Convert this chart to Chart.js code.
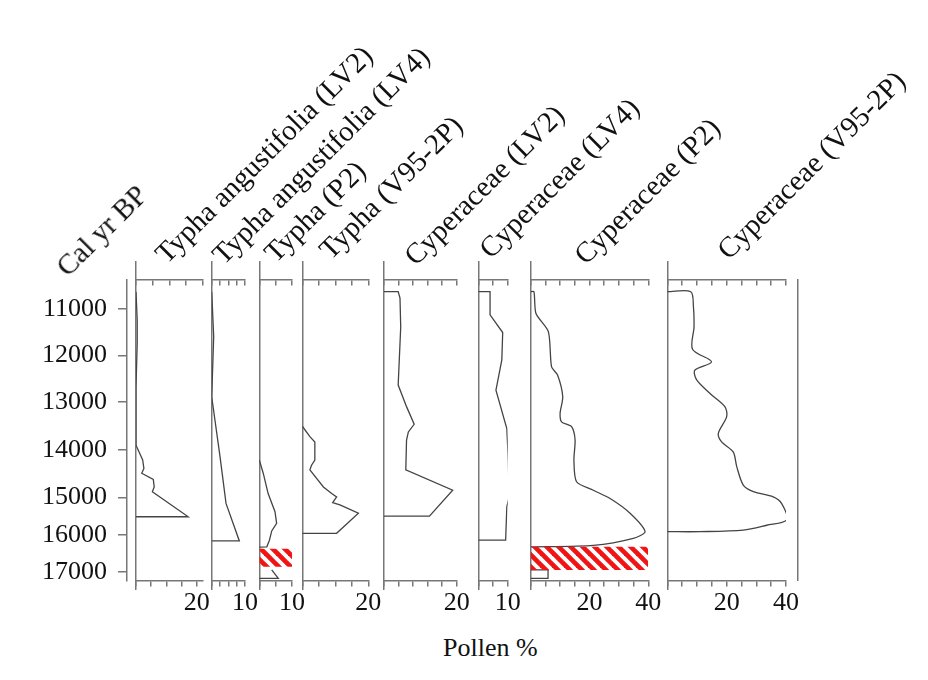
<!DOCTYPE html>
<html>
<head>
<meta charset="utf-8">
<script src="https://cdn.jsdelivr.net/npm/chart.js@4.4.1/dist/chart.umd.min.js"></script>
<style>
  html, body { margin:0; padding:0; background:#fff; }
  #wrap { position:relative; width:928px; height:680px; overflow:hidden; background:#fff;
          font-family:'Liberation Serif','Times New Roman',serif; color:#111; }
  #wrap canvas { position:absolute; left:0; top:0; }
  .ttl { position:absolute; white-space:nowrap; font-size:29px; line-height:29px;
         transform-origin:0 0; transform:rotate(-45deg) translate(0,-24.2px); }
  #xlab { position:absolute; left:443px; top:635px; font-size:26px; line-height:26px; white-space:nowrap; }
</style>
</head>
<body>
<div id="wrap"><div id="xlab">Pollen %</div></div>
<script>
/* ── age axis (age-depth model) ── */
const AGE_TICKS = [11000, 12000, 13000, 14000, 15000, 16000, 17000];
const AGE_DEPTH = [0, 46.4, 93.0, 140.7, 188.0, 225.7, 262.4];
const AGE_AXIS  = [10360, 17245];   // top / bottom of the % axes
const AGE_LINE  = [9980, 17470];    // extent of the zero lines

/* ── titles ── */
const TITLES = ['Cal yr BP', 'Typha angustifolia (LV2)', 'Typha angustifolia (LV4)', 'Typha (P2)',
  'Typha (V95-2P)', 'Cyperaceae (LV2)', 'Cyperaceae (LV4)', 'Cyperaceae (P2)', 'Cyperaceae (V95-2P)'];

/* ── series (age cal yr BP, pollen %) ── */
const TA_LV2_AGE = [10620, 11230, 11730, 12670, 13900, 14210, 14390, 14490, 14620, 14780, 14880, 15515, 15515];
const TA_LV2_PCT = [0, 0.4, 0.4, 0, 0, 2.2, 2.6, 1.9, 5.7, 6.0, 5.4, 17.2, 0];

const TA_LV4_AGE = [10620, 11590, 12880, 14140, 15160, 16160, 16160];
const TA_LV4_PCT = [0, 0.6, 0, 2.5, 4.3, 8.3, 0];

const TY_P2_AGE = [14210, 14490, 14920, 15380, 15690, 15890, 16140, 16320, 16330];
const TY_P2_PCT = [0, 1.2, 2.7, 4.8, 5.3, 3.8, 3.1, 2.3, 0];
const TY_P2_LOW_AGE = [16950, 17180, 17180];
const TY_P2_LOW_PCT = [3.8, 5.8, 0];
const TY_P2_GAP = [16370, 16865];

const TY_V95_AGE = [13500, 13720, 13830, 14210, 14320, 14420, 14780, 14920, 14990, 15140, 15200, 15420, 15955, 15955];
const TY_V95_PCT = [0, 2.3, 3.8, 3.8, 2.8, 2.3, 6.4, 8.9, 10.4, 9.2, 11.4, 17.0, 10.4, 0];

const CY_LV2_AGE = [10620, 10620, 10760, 11380, 12630, 13090, 13460, 13620, 13790, 14420, 14850, 15500, 15500];
const CY_LV2_PCT = [0, 3.9, 4.4, 4.6, 3.9, 6.2, 8.3, 6.7, 6.2, 6.0, 18.9, 12.5, 0];

const CY_LV4_AGE = [10620, 10620, 11120, 11500, 12090, 12740, 13550, 14210, 14990, 15250, 16140, 16140];
const CY_LV4_PCT = [0, 4.0, 4.0, 8.3, 8.0, 6.0, 9.7, 10.2, 10.5, 9.7, 9.3, 0];

const CY_P2_AGE = [10620, 10620, 11090, 11480, 12240, 12410, 12880, 13230, 13410, 13510, 13790, 14210,
  14670, 14850, 15030, 15420, 15910, 16090, 16280, 16320];
const CY_P2_PCT = [0, 1.1, 1.8, 6.0, 7.1, 9.1, 10.9, 10.0, 10.5, 13.9, 15.1, 14.7,
  15.6, 21.3, 27.0, 33.8, 38.9, 34.9, 21.3, 0];
const CY_P2_LOW_AGE = [16950, 16950, 17180, 17180];
const CY_P2_LOW_PCT = [0, 5.9, 5.9, 0];
const CY_P2_GAP = [16320, 16950];

const CY_V95_AGE = [10620, 10620, 10940, 11380, 11860, 12130, 12310, 12520, 12810, 13090, 13300, 13650,
  13830, 14040, 14350, 14740, 14880, 14990, 15160, 15600, 15740, 15870, 15910, 15910];
const CY_V95_PCT = [0, 7.9, 8.8, 9.0, 8.5, 14.9, 9.3, 9.9, 14.4, 19.4, 20.0, 17.2,
  18.3, 22.2, 23.4, 25.6, 29.0, 35.7, 38.5, 40.2, 33.5, 25.6, 11.0, 0];

/* ── style ── */
const AXIS = '#777777';
const CURVE = '#444444';
const TEXT = '#111111';
Chart.defaults.font.family = "'Liberation Serif','Times New Roman',serif";
Chart.defaults.color = TEXT;

function toDepth(age) {
  const n = AGE_TICKS.length;
  let i = 0;
  while (i < n - 2 && age > AGE_TICKS[i + 1]) i++;
  const t = (age - AGE_TICKS[i]) / (AGE_TICKS[i + 1] - AGE_TICKS[i]);
  return AGE_DEPTH[i] + t * (AGE_DEPTH[i + 1] - AGE_DEPTH[i]);
}
const pts = (ages, pcts) => ages.map((a, k) => ({ x: pcts[k], y: toDepth(a) }));
function tickList(end, step) {
  const out = [];
  for (let v = 0; v <= end + 1e-9; v += step) out.push({ value: +v.toFixed(3) });
  return out;
}
function hatchPattern() {
  const c = document.createElement('canvas');
  c.width = 12; c.height = 12;
  const g = c.getContext('2d');
  g.strokeStyle = '#f01414';
  g.lineWidth = 4.7;
  for (const k of [-12, 0, 12]) {
    g.beginPath(); g.moveTo(k - 12, -12); g.lineTo(k + 24, 24); g.stroke();
  }
  return g.createPattern(c, 'repeat');
}

const wrap = document.getElementById('wrap');
function newCanvas() {
  const cv = document.createElement('canvas');
  cv.width = 928; cv.height = 680;
  wrap.appendChild(cv);
  return cv;
}
const base = {
  responsive: false, animation: false, events: [],
  plugins: { legend: { display: false }, tooltip: { enabled: false } }
};

/* ── age axis + right frame ── */
new Chart(newCanvas(), {
  type: 'line',
  data: { datasets: [] },
  options: {
    ...base,
    layout: { padding: { left: 0, right: 130, top: 279.5, bottom: 99.3 } },
    scales: {
      x: { type: 'linear', display: false, min: 0, max: 1 },
      y: {
        type: 'linear', reverse: true, min: toDepth(AGE_AXIS[0]), max: toDepth(AGE_AXIS[1]),
        afterBuildTicks: s => { s.ticks = AGE_TICKS.map(a => ({ value: toDepth(a) })); },
        afterFit: s => { s.width = 127; },
        ticks: { autoSkip: false, padding: 11, font: { size: 26 }, color: TEXT,
                 callback: (v, i) => String(AGE_TICKS[i]) },
        grid: { drawOnChartArea: false, tickLength: 9, color: AXIS, lineWidth: 1.5 },
        border: { color: AXIS, width: 1.5 }
      },
      y2: {
        type: 'linear', position: 'right', min: 0, max: 1,
        afterFit: s => { s.width = 0; },
        ticks: { display: false }, grid: { display: false, drawTicks: false },
        border: { color: AXIS, width: 1.5 }
      }
    }
  }
});

/* ── pollen panels ── */
const pattern = hatchPattern();
const PANELS = [
  { age: TA_LV2_AGE, pct: TA_LV2_PCT, left: 136,   right: 202.7, topMax: 20, botMax: 21.98, end: 20, topStep: 5,   botStep: 5,   marks: [20] },
  { age: TA_LV4_AGE, pct: TA_LV4_PCT, left: 211.7, right: 245,   topMax: 10, botMax: 10,    end: 10, topStep: 2.5, botStep: 2.5, marks: [10] },
  { age: TY_P2_AGE,  pct: TY_P2_PCT,  left: 259.3, right: 292,   topMax: 10, botMax: 10,    end: 10, topStep: 5,   botStep: 5,   marks: [10],
    low: [TY_P2_LOW_AGE, TY_P2_LOW_PCT], gap: TY_P2_GAP },
  { age: TY_V95_AGE, pct: TY_V95_PCT, left: 302.3, right: 368.3, topMax: 20, botMax: 20,    end: 20, topStep: 5,   botStep: 5,   marks: [20] },
  { age: CY_LV2_AGE, pct: CY_LV2_PCT, left: 384,   right: 456.7, topMax: 20, botMax: 20,    end: 20, topStep: 4,   botStep: 4,   marks: [20] },
  { age: CY_LV4_AGE, pct: CY_LV4_PCT, left: 478.3, right: 507.7, topMax: 10, botMax: 10,    end: 10, topStep: 5,   botStep: 5,   marks: [10] },
  { age: CY_P2_AGE,  pct: CY_P2_PCT,  left: 530.7, right: 648.3, topMax: 40, botMax: 40,    end: 40, topStep: 5,   botStep: 5,   marks: [20, 40],
    low: [CY_P2_LOW_AGE, CY_P2_LOW_PCT], gap: CY_P2_GAP, tension: 0.25 },
  { age: CY_V95_AGE, pct: CY_V95_PCT, left: 667.3, right: 786,   topMax: 40, botMax: 40,    end: 40, topStep: 5,   botStep: 5,   marks: [20, 40],
    tension: 0.3 }
];

PANELS.forEach(p => {
  const datasets = [];
  if (p.gap) {
    datasets.push({ data: [{ x: 0, y: toDepth(p.gap[0]) }, { x: p.botMax, y: toDepth(p.gap[0]) }],
      borderWidth: 0, pointRadius: 0, fill: false });
    datasets.push({ data: [{ x: 0, y: toDepth(p.gap[1]) }, { x: p.botMax, y: toDepth(p.gap[1]) }],
      borderWidth: 0, pointRadius: 0, fill: 0, backgroundColor: pattern });
  }
  datasets.push({ data: pts(p.age, p.pct), borderColor: CURVE, borderWidth: 1.3,
    pointRadius: 0, fill: false, tension: p.tension || 0 });
  if (p.low) {
    datasets.push({ data: pts(p.low[0], p.low[1]), borderColor: CURVE, borderWidth: 1.3,
      pointRadius: 0, fill: false });
  }
  const axisGrid = { drawOnChartArea: false, tickLength: 5, color: AXIS, lineWidth: 1.5 };
  new Chart(newCanvas(), {
    type: 'line',
    data: { datasets },
    options: {
      ...base,
      layout: { padding: { left: p.left, right: 928 - p.right, top: 262, bottom: 91 } },
      scales: {
        x: {
          type: 'linear', min: 0, max: p.botMax, position: { y: toDepth(AGE_AXIS[1]) },
          afterBuildTicks: s => { s.ticks = tickList(p.end, p.botStep); },
          afterFit: s => { s.paddingLeft = 0; s.paddingRight = 0; },
          ticks: { autoSkip: false, maxRotation: 0, padding: 2, font: { size: 26 }, color: TEXT,
                   callback: v => p.marks.includes(v) ? String(v) : '' },
          grid: axisGrid, border: { color: AXIS, width: 1.5 }
        },
        x2: {
          type: 'linear', axis: 'x', min: 0, max: p.topMax, position: { y: toDepth(AGE_AXIS[0]) },
          afterBuildTicks: s => { s.ticks = tickList(p.topMax, p.topStep); },
          afterFit: s => { s.paddingLeft = 0; s.paddingRight = 0; },
          ticks: { display: false },
          grid: axisGrid, border: { color: AXIS, width: 1.5 }
        },
        y: {
          type: 'linear', reverse: true, position: 'left',
          min: toDepth(AGE_LINE[0]), max: toDepth(AGE_LINE[1]),
          afterFit: s => { s.width = 0; },
          ticks: { display: false }, grid: { display: false, drawTicks: false },
          border: { color: AXIS, width: 1.5 }
        }
      }
    }
  });
});

/* ── rotated column titles ── */
const TITLE_AT = [[68, 278], [167, 265], [224, 266], [276, 264], [331, 261], [416, 267], [491, 260], [586, 266], [729, 261]];
TITLES.forEach((t, i) => {
  const d = document.createElement('div');
  d.className = 'ttl';
  d.textContent = t;
  d.style.left = TITLE_AT[i][0] + 'px';
  d.style.top = TITLE_AT[i][1] + 'px';
  wrap.appendChild(d);
});
</script>
</body>
</html>
